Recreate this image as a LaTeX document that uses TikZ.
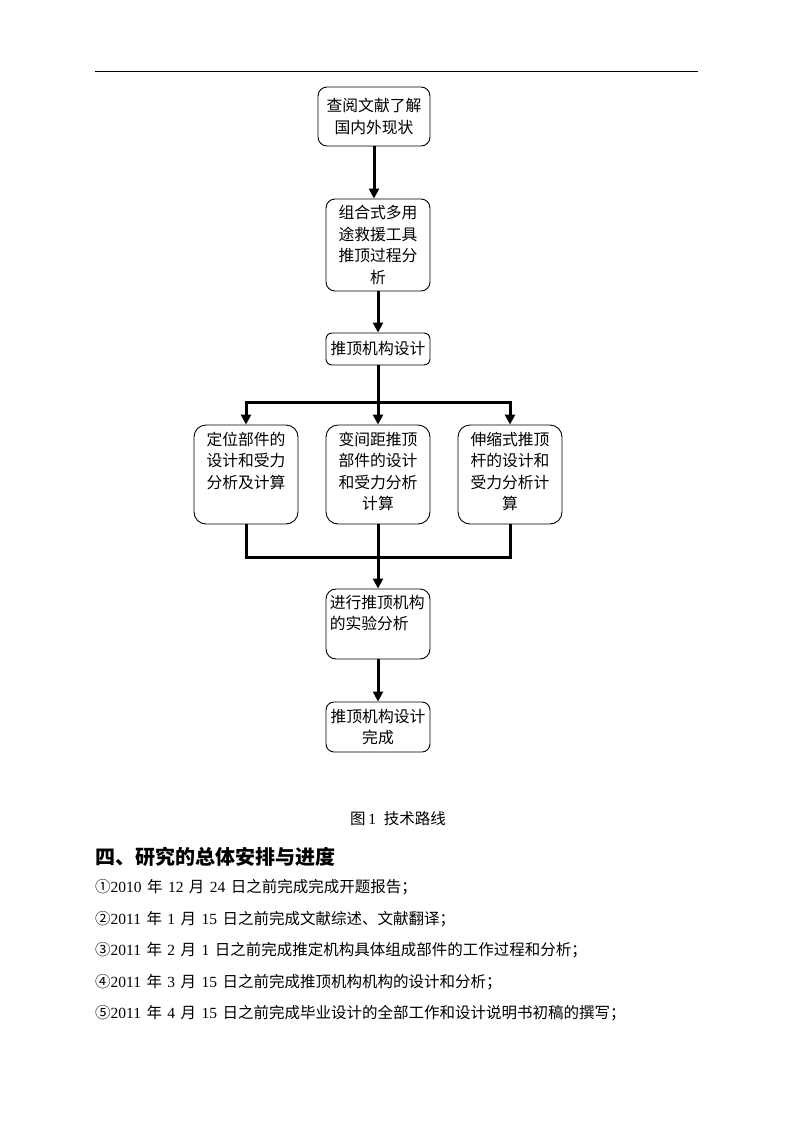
\documentclass[tikz,border=0pt]{standalone}
\usepackage{fontspec}
\setmainfont{Liberation Serif}
\newfontfamily\cjk{Noto Sans CJK SC}
\usetikzlibrary{arrows.meta,calc}
\newcommand{\C}[1]{{\cjk #1}}
\newcommand{\gap}{\hspace{0.35em}}
\begin{document}
\begin{tikzpicture}[x=1pt,y=-1pt,
  box/.style={draw, line width=0.9pt, rounded corners=9pt, inner sep=0pt},
  txt/.style={font=\cjk\fontsize{15.8}{21.5}\selectfont, align=center, inner sep=0pt},
  link/.style={line width=3pt},
  arr/.style={line width=3pt, -{Triangle[width=10pt,length=10pt]}},
  para/.style={anchor=west, inner sep=0pt, font=\fontsize{15.5}{17}\selectfont}]
\useasboundingbox (0,0) rectangle (793,1122);
\fill[white] (0,0) rectangle (793,1122);

% top rule
\coordinate (ruleL) at (95,71);
\coordinate (ruleR) at (698,71);
\draw[line width=0.9pt] (ruleL) -- (ruleR);

% boxes
\node[box, minimum width=112pt, minimum height=59pt] (b1) at (374,116.5) {};
\node[txt] (t1) at (b1.center) {查阅文献了解\\国内外现状};

\node[box, minimum width=104pt, minimum height=92pt] (b2) at (378,245) {};
\node[txt] (t2) at (b2.center) {组合式多用\\途救援工具\\推顶过程分\\析};

\node[box, minimum width=104pt, minimum height=32pt, rounded corners=6pt] (b3) at (378,349) {};
\node[txt] (t3) at (b3.center) {推顶机构设计};

\node[box, minimum width=104pt, minimum height=99pt, rounded corners=12pt] (b4) at (246,474.5) {};
\node[txt, anchor=north] (t4) at ($(b4.north)+(0,7)$) {定位部件的\\设计和受力\\分析及计算};

\node[box, minimum width=104pt, minimum height=99pt, rounded corners=12pt] (b5) at (378,474.5) {};
\node[txt, anchor=north] (t5) at ($(b5.north)+(0,7)$) {变间距推顶\\部件的设计\\和受力分析\\计算};

\node[box, minimum width=104pt, minimum height=99pt, rounded corners=12pt] (b6) at (510,474.5) {};
\node[txt, anchor=north] (t6) at ($(b6.north)+(0,7)$) {伸缩式推顶\\杆的设计和\\受力分析计\\算};

\node[box, minimum width=104pt, minimum height=70pt, rounded corners=10pt] (b7) at (378,624) {};
\node[txt, anchor=north west, align=left] (t7) at ($(b7.north west)+(4,6)$) {进行推顶机构\\的实验分析};

\node[box, minimum width=104pt, minimum height=50pt, rounded corners=8pt] (b8) at (378,727) {};
\node[txt] (t8) at (b8.center) {推顶机构设计\\完成};

% connectors
\draw[arr] (b1.south) -- (b1.south |- b2.north);
\draw[arr] (b2.south) -- (b3.north);

\coordinate (split) at ($(b3.south |- 0,402)$);
\draw[link] (b3.south) -- (split);
\draw[arr] (split) -| (b4.north);
\draw[arr] (split) -| (b6.north);
\draw[arr] (split) -- (b5.north);

\coordinate (join) at ($(b5.south |- 0,557)$);
\draw[link] (b4.south) |- (join);
\draw[link] (b6.south) |- (join);
\draw[link] (b5.south) -- (join);
\draw[arr] (join) -- (b7.north);
\draw[arr] (b7.south) -- (b8.north);

% caption
\node[inner sep=0pt, font=\fontsize{15.5}{17}\selectfont] (cap) at (398,819) {\C{图}\,1\hspace{0.5em}\C{技术路线}};

% heading
\node[anchor=west, inner sep=0pt, font=\cjk\bfseries\fontsize{20}{22}\selectfont] (head) at (95,857) {四、研究的总体安排与进度};

% list
\node[para] (l1) at (95,887) {\C{①}2010\gap\C{年}\gap12\gap\C{月}\gap24\gap\C{日之前完成完成开题报告；}};
\node[para] (l2) at (95,919) {\C{②}2011\gap\C{年}\gap1\gap\C{月}\gap15\gap\C{日之前完成文献综述、文献翻译；}};
\node[para] (l3) at (95,950) {\C{③}2011\gap\C{年}\gap2\gap\C{月}\gap1\gap\C{日之前完成推定机构具体组成部件的工作过程和分析；}};
\node[para] (l4) at (95,982) {\C{④}2011\gap\C{年}\gap3\gap\C{月}\gap15\gap\C{日之前完成推顶机构机构的设计和分析；}};
\node[para] (l5) at (95,1013) {\C{⑤}2011\gap\C{年}\gap4\gap\C{月}\gap15\gap\C{日之前完成毕业设计的全部工作和设计说明书初稿的撰写；}};
\end{tikzpicture}
\end{document}
